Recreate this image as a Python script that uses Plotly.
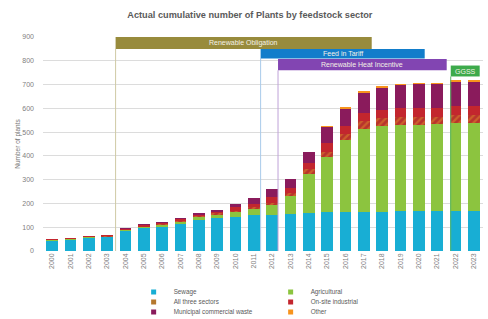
import plotly.graph_objects as go

years = list(range(2000, 2024))
year_labels = [str(y) for y in years]

sewage       = [45, 48, 57, 59, 85, 97, 105, 117, 131, 140, 145, 150, 152, 157, 160, 163, 166, 166, 166, 168, 168, 169, 170, 170]
agricultural = [3, 3, 3, 4, 4, 6, 7, 8, 12, 14, 21, 27, 42, 73, 162, 234, 299, 349, 360, 362, 364, 364, 368, 368]
all_three    = [0, 0, 1, 1, 1, 2, 2, 3, 3, 4, 4, 6, 8, 16, 23, 21, 27, 32, 32, 32, 32, 32, 34, 34]
onsite       = [1, 2, 2, 2, 4, 5, 5, 7, 9, 9, 14, 15, 27, 21, 25, 37, 35, 33, 37, 38, 38, 38, 38, 38]
municipal    = [0, 0, 0, 0, 1, 2, 2, 3, 4, 6, 13, 24, 31, 35, 48, 67, 74, 88, 92, 99, 101, 100, 103, 103]
other        = [0, 0, 0, 0, 0, 0, 0, 0, 0, 0, 0, 0, 0, 0, 0, 2, 3, 3, 3, 3, 3, 3, 4, 4]

series_names = ["Sewage", "Agricultural", "All three sectors", "On-site industrial",
                "Municipal commercial waste", "Other"]
series_values = [sewage, agricultural, all_three, onsite, municipal, other]
series_colors = ["#18AED4", "#8CC43F", "#B8342C", "#C3262E", "#8A1B5C", "#F7941D"]
legend_colors = ["#18AED4", "#8CC43F", "#B5782E", "#C3262E", "#8A1B5C", "#F7941D"]

# support schemes (years as decimal positions on the axis, values in number of plants)
scheme_names  = ["Renewable Obligation", "Feed in Tariff", "Renewable Heat Incentive", "GGSS"]
scheme_start  = [2003.46, 2011.37, 2012.32, 2021.74]
scheme_end    = [2017.43, 2020.32, 2021.52, 2023.32]
scheme_top    = [900, 850, 808, 780]
scheme_bottom = [850, 810, 760, 734]
scheme_colors = ["#988B3C", "#127DCB", "#8245B2", "#3DAA4B"]
scheme_lines  = ["#CFC9A4", "#A9CBEA", "#BFA3D8", "#5DB86A"]

fig = go.Figure()

for name, vals, col in zip(series_names, series_values, series_colors):
    marker = dict(color=col, line=dict(width=0))
    if name == "All three sectors":
        marker["pattern"] = dict(shape="/", fgcolor="#E0892C", bgcolor="#B8342C",
                                 size=5, solidity=0.45, fillmode="overlay")
    fig.add_trace(go.Bar(x=years, y=vals, name=name, marker=marker, showlegend=False))

# legend entries (small square keys), three rows of two
legend_ids = ["legend", "legend", "legend2", "legend2", "legend3", "legend3"]
for name, col, lid in zip(series_names, legend_colors, legend_ids):
    fig.add_trace(go.Scatter(x=[None], y=[None], mode="markers", name=name,
                             marker=dict(symbol="square", size=5, color=col),
                             legend=lid, showlegend=True))

shapes = []
annotations = []
for nm, x0, x1, y0, y1, c, lc in zip(scheme_names, scheme_start, scheme_end,
                                      scheme_bottom, scheme_top, scheme_colors, scheme_lines):
    shapes.append(dict(type="line", xref="x", yref="y", x0=x0, x1=x0, y0=0, y1=y0,
                       line=dict(color=lc, width=1), layer="above"))
    shapes.append(dict(type="rect", xref="x", yref="y", x0=x0, x1=x1, y0=y0, y1=y1,
                       fillcolor=c, line=dict(width=0), layer="above"))
    annotations.append(dict(x=(x0 + x1) / 2, y=(y0 + y1) / 2, xref="x", yref="y",
                            text=nm, showarrow=False,
                            font=dict(size=7, color="#F4F1E6", family="Liberation Sans")))

leg_common = dict(orientation="h", xanchor="left", yanchor="middle", traceorder="normal",
                  font=dict(size=6.3, color="#595959", family="Liberation Sans"),
                  bgcolor="rgba(0,0,0,0)", entrywidth=92, entrywidthmode="pixels",
                  itemwidth=30, tracegroupgap=0)

fig.update_layout(
    template="none",
    width=488, height=319,
    margin=dict(l=43, r=5, t=37, b=68, autoexpand=False),
    paper_bgcolor="white", plot_bgcolor="white",
    barmode="stack", bargap=0.36,
    font=dict(family="Liberation Sans", color="#595959"),
    title=dict(text="<b>Actual cumulative number of Plants by feedstock sector</b>",
               x=0.512, xanchor="center", y=0.955, yanchor="middle",
               font=dict(size=9.2, color="#5A5A5A", family="Liberation Sans")),
    xaxis=dict(range=[1999.5, 2023.5], tickvals=years, ticktext=year_labels,
               tickangle=-90, tickfont=dict(size=7, color="#808080"),
               showgrid=False, zeroline=False, showline=False, ticks="", automargin=False),
    yaxis=dict(range=[0, 900], dtick=100, tickfont=dict(size=7, color="#808080"),
               showgrid=True, gridcolor="#DCDCDC", gridwidth=1, zeroline=False,
               showline=False, ticks="", ticklabelstandoff=8, automargin=False,
               title=dict(text="Number of plants", font=dict(size=6.5, color="#777777"),
                          standoff=0)),
    shapes=shapes,
    annotations=annotations,
    legend=dict(x=0.206, y=-0.1916, **leg_common),
    legend2=dict(x=0.206, y=-0.2383, **leg_common),
    legend3=dict(x=0.206, y=-0.285, **leg_common),
)

fig.write_html("out.html", config={"displayModeBar": False},
               post_script="document.body.style.margin='0';document.body.style.overflow='hidden';")
